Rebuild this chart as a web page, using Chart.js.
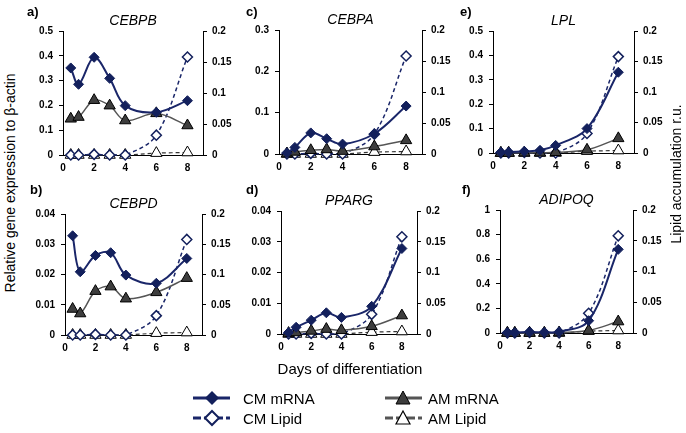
<!DOCTYPE html>
<html>
<head>
<meta charset="utf-8">
<script src="https://cdn.jsdelivr.net/npm/chart.js@4.4.1/dist/chart.umd.min.js"></script>
<style>
body { margin:0; width:686px; height:433px; background:#fff; position:relative; overflow:hidden; font-family:"Liberation Sans", Arial, sans-serif; color:#000; }
canvas, svg { position:absolute; }
.tag { position:absolute; font-weight:bold; font-size:13px; transform:translateY(-50%); }
.gene { position:absolute; font-style:italic; font-size:14px; transform:translate(-50%,-50%); white-space:nowrap; }
.txt { position:absolute; white-space:nowrap; transform:translateY(-50%); font-size:15px; }
.rot { position:absolute; white-space:nowrap; font-size:14px; transform:translate(-50%,-50%) rotate(-90deg); }
</style>
</head>
<body>
<script>
// days of differentiation (shared x values)
const days = [0.5, 1, 2, 3, 4, 6, 8];
const xTicks = [0, 2, 4, 6, 8];

// mRNA, left axis
const cmCEBPB = [0.351, 0.285, 0.394, 0.309, 0.199, 0.172, 0.219];
const amCEBPB = [0.146, 0.153, 0.221, 0.199, 0.139, 0.168, 0.119];
const cmCEBPD = [0.0328, 0.0209, 0.0263, 0.0272, 0.0198, 0.0171, 0.0253];
const amCEBPD = [0.0086, 0.0071, 0.0145, 0.016, 0.012, 0.0141, 0.0188];
const cmCEBPA = [0.003, 0.016, 0.051, 0.037, 0.024, 0.049, 0.116];
const amCEBPA = [0.001, 0.005, 0.009, 0.011, 0.007, 0.018, 0.033];
const cmPPARG = [0.0005, 0.0022, 0.0045, 0.0069, 0.0054, 0.009, 0.0278];
const amPPARG = [0.0003, 0.0005, 0.001, 0.0016, 0.0012, 0.0025, 0.006];
const cmLPL = [0.003, 0.004, 0.007, 0.011, 0.031, 0.1, 0.331];
const amLPL = [0, 0, 0.001, 0.001, 0.003, 0.013, 0.06];
const cmADIPOQ = [0.003, 0.003, 0.008, 0.006, 0.01, 0.1, 0.68];
const amADIPOQ = [0, 0, 0, 0, 0.003, 0.02, 0.093];

// lipid accumulation, right axis (same in every panel)
const cmLipid = [0, 0, 0.001, 0, 0, 0.032, 0.158];
const amLipid = [0, 0, 0, 0, 0, 0.003, 0.004];

const ticksCEBPB = [0, 0.1, 0.2, 0.3, 0.4, 0.5];
const ticksCEBPD = [0, 0.01, 0.02, 0.03, 0.04];
const ticksCEBPA = [0, 0.1, 0.2, 0.3];
const ticksPPARG = [0, 0.01, 0.02, 0.03, 0.04];
const ticksLPL = [0, 0.1, 0.2, 0.3, 0.4, 0.5];
const ticksADIPOQ = [0, 0.2, 0.4, 0.6, 0.8, 1];
const lipidTicks = [0, 0.05, 0.1, 0.15, 0.2];

const seriesNames = ['CM mRNA', 'AM mRNA', 'CM Lipid', 'AM Lipid'];

const panels = [
  { gene: 'CEBPB', tag: 'a)', cm: cmCEBPB, am: amCEBPB, ticks: ticksCEBPB },
  { gene: 'CEBPD', tag: 'b)', cm: cmCEBPD, am: amCEBPD, ticks: ticksCEBPD },
  { gene: 'CEBPA', tag: 'c)', cm: cmCEBPA, am: amCEBPA, ticks: ticksCEBPA },
  { gene: 'PPARG', tag: 'd)', cm: cmPPARG, am: amPPARG, ticks: ticksPPARG },
  { gene: 'LPL', tag: 'e)', cm: cmLPL, am: amLPL, ticks: ticksLPL },
  { gene: 'ADIPOQ', tag: 'f)', cm: cmADIPOQ, am: amADIPOQ, ticks: ticksADIPOQ }
];

// plot areas in page pixels, and where the panel letters sit
const boxes = [
  { l: 63, r: 203, t: 29, b: 155, tagX: 27 },
  { l: 65, r: 202, t: 212, b: 335, tagX: 30 },
  { l: 279, r: 422, t: 28, b: 154, tagX: 246 },
  { l: 281, r: 417, t: 209, b: 334, tagX: 246 },
  { l: 493, r: 634, t: 29, b: 153, tagX: 460 },
  { l: 500, r: 633, t: 208, b: 333, tagX: 462 }
];

const NAVY = '#1a2669';
const NAVY_MARK = '#13205c';
const SIDE = 45, TOP = 10, BOTTOM = 25;
const tickFont = { family: 'Liberation Sans', size: 10, weight: 'bold' };

function fmt(v) {
  return String(Number(v.toFixed(4)));
}

function pts(vals) {
  return days.map((d, i) => ({ x: d, y: vals[i] }));
}

function addText(cls, text, x, y) {
  let el = document.createElement('div');
  el.className = cls;
  el.textContent = text;
  el.style.left = x + 'px';
  el.style.top = y + 'px';
  document.body.appendChild(el);
  return el;
}

function yScale(ticks, pos) {
  return {
    type: 'linear',
    position: pos,
    min: ticks[0],
    max: ticks[ticks.length - 1],
    afterBuildTicks: s => { s.ticks = ticks.map(v => ({ value: v })); },
    afterFit: s => { s.width = SIDE; },
    grid: { display: true, drawOnChartArea: false, tickLength: 4, color: '#000' },
    border: { display: true, color: '#000', width: 1 },
    ticks: { font: tickFont, color: '#000', padding: pos === 'left' ? 6 : 5, callback: fmt }
  };
}

function makeChart(p, box) {
  let c = document.createElement('canvas');
  c.width = box.r - box.l + 2 * SIDE;
  c.height = box.b - box.t + TOP + BOTTOM;
  c.style.left = (box.l - SIDE) + 'px';
  c.style.top = (box.t - TOP) + 'px';
  document.body.appendChild(c);

  new Chart(c, {
    type: 'line',
    data: {
      datasets: [
        { label: seriesNames[0], data: pts(p.cm), yAxisID: 'y', order: 0,
          borderColor: NAVY, borderWidth: 2, tension: 0.35, clip: false,
          pointStyle: 'rectRot', pointRadius: 5, pointBackgroundColor: NAVY_MARK, pointBorderColor: NAVY_MARK, pointBorderWidth: 1 },
        { label: seriesNames[1], data: pts(p.am), yAxisID: 'y', order: 1,
          borderColor: '#555', borderWidth: 1.5, tension: 0.35, clip: false,
          pointStyle: 'triangle', pointRadius: 6.5, pointBackgroundColor: '#3d3d3d', pointBorderColor: '#000', pointBorderWidth: 1 },
        { label: seriesNames[2], data: pts(cmLipid), yAxisID: 'y2', order: 2,
          borderColor: NAVY, borderWidth: 1.5, borderDash: [4, 3], tension: 0.35, clip: false,
          pointStyle: 'rectRot', pointRadius: 5, pointBackgroundColor: '#fff', pointBorderColor: NAVY_MARK, pointBorderWidth: 1.5 },
        { label: seriesNames[3], data: pts(amLipid), yAxisID: 'y2', order: 3,
          borderColor: '#333', borderWidth: 1.2, borderDash: [4, 3], tension: 0.35, clip: false,
          pointStyle: 'triangle', pointRadius: 6.5, pointBackgroundColor: '#fff', pointBorderColor: '#000', pointBorderWidth: 1 }
      ]
    },
    options: {
      responsive: false,
      animation: false,
      layout: { padding: { top: TOP, left: 0, right: 0, bottom: 0 } },
      plugins: { legend: { display: false }, tooltip: { enabled: false } },
      scales: {
        x: {
          type: 'linear', min: 0, max: 9,
          afterBuildTicks: s => { s.ticks = xTicks.map(v => ({ value: v })); },
          afterFit: s => { s.height = BOTTOM; },
          grid: { display: false, drawTicks: false },
          border: { display: true, color: '#000', width: 1 },
          ticks: { font: tickFont, color: '#000', padding: 7, maxRotation: 0, callback: fmt }
        },
        y: yScale(p.ticks, 'left'),
        y2: yScale(lipidTicks, 'right')
      }
    }
  });

  addText('gene', p.gene, (box.l + box.r) / 2, box.t - 9);
  addText('tag', p.tag, box.tagX, box.t < 100 ? 11 : 189);
}

for (let i = 0; i < panels.length; i++) {
  makeChart(panels[i], boxes[i]);
}

// axis titles
addText('rot', 'Relative gene expression to \u03b2-actin', 10, 183);
addText('rot', 'Lipid accumulation r.u.', 676, 174);
let dx = addText('txt', 'Days of differentiation', 350, 368);
dx.style.transform = 'translate(-50%,-50%)';

// legend
let svg = document.createElementNS('http://www.w3.org/2000/svg', 'svg');
svg.setAttribute('width', 686);
svg.setAttribute('height', 433);
svg.style.left = '0px';
svg.style.top = '0px';
svg.innerHTML =
  '<line x1="193" y1="398" x2="230" y2="398" stroke="' + NAVY + '" stroke-width="3"/>' +
  '<polygon points="212,391 219,398 212,405 205,398" fill="' + NAVY_MARK + '"/>' +
  '<line x1="193" y1="418" x2="230" y2="418" stroke="' + NAVY + '" stroke-width="3" stroke-dasharray="8,3"/>' +
  '<polygon points="212,411 219,418 212,425 205,418" fill="#fff" stroke="' + NAVY_MARK + '" stroke-width="2"/>' +
  '<line x1="385" y1="398" x2="422" y2="398" stroke="#555" stroke-width="3"/>' +
  '<polygon points="403,391 410,404 396,404" fill="#3d3d3d" stroke="#000" stroke-width="1"/>' +
  '<line x1="385" y1="418" x2="422" y2="418" stroke="#555" stroke-width="3" stroke-dasharray="8,3"/>' +
  '<polygon points="403,411 410,424 396,424" fill="#fff" stroke="#000" stroke-width="1.2"/>';
document.body.appendChild(svg);

addText('txt', seriesNames[0], 243, 398);
addText('txt', seriesNames[2], 243, 418);
addText('txt', seriesNames[1], 428, 398);
addText('txt', seriesNames[3], 428, 418);
</script>
</body>
</html>
